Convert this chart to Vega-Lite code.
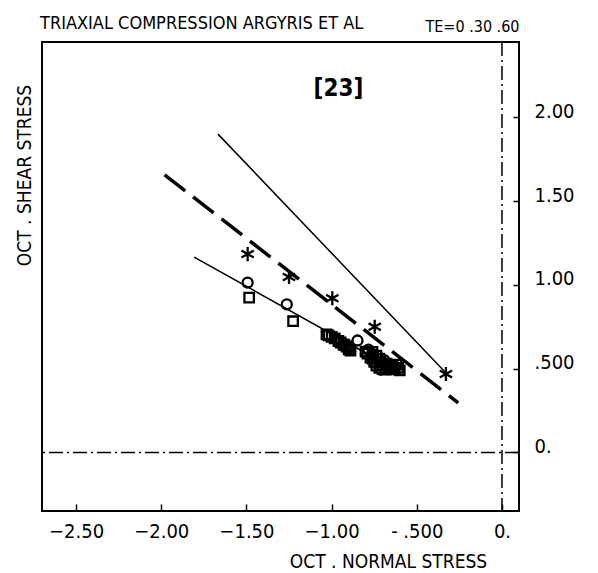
{
  "$schema": "https://vega.github.io/schema/vega-lite/v6.json",
  "width": 477,
  "height": 469,
  "autosize": "none",
  "padding": {"left": 42, "top": 42, "right": 79, "bottom": 62},
  "background": "white",
  "config": {
    "view": {"stroke": "black", "strokeWidth": 2},
    "font": "DejaVu Sans Condensed",
    "axis": {"grid": false, "domain": false, "labelFont": "DejaVu Sans Condensed", "titleFont": "DejaVu Sans Condensed", "labelColor": "black", "titleColor": "black", "tickColor": "black", "titleFontWeight": "normal"}
  },
  "title": {"text": "TRIAXIAL COMPRESSION ARGYRIS ET AL", "anchor": "start", "frame": "group", "fontSize": 18, "fontWeight": "normal", "font": "DejaVu Sans Condensed", "baseline": "alphabetic", "offset": 0, "dx": -2, "dy": 29, "color": "black"},
  "datasets": {
    "lines": [
      {"line": "upper", "x": -1.667, "y": 1.9},
      {"line": "upper", "x": -0.32, "y": 0.465},
      {"line": "dashed", "x": -1.98, "y": 1.657},
      {"line": "dashed", "x": -0.257, "y": 0.296},
      {"line": "lower", "x": -1.807, "y": 1.166},
      {"line": "lower", "x": -0.6, "y": 0.48}
    ],
    "points": [
      {"series": "star", "x": -1.493, "y": 1.184},
      {"series": "star", "x": -1.25, "y": 1.047},
      {"series": "star", "x": -0.996, "y": 0.92},
      {"series": "star", "x": -0.747, "y": 0.75},
      {"series": "star", "x": -0.329, "y": 0.468},
      {"series": "circle", "x": -1.493, "y": 1.014},
      {"series": "circle", "x": -1.263, "y": 0.884},
      {"series": "circle", "x": -0.848, "y": 0.668},
      {"series": "circle", "x": -0.713, "y": 0.494},
      {"series": "square", "x": -1.484, "y": 0.924},
      {"series": "square", "x": -1.226, "y": 0.783},
      {"series": "square", "x": -1.03, "y": 0.705},
      {"series": "square", "x": -1.018, "y": 0.698},
      {"series": "square", "x": -1.0, "y": 0.69},
      {"series": "square", "x": -0.982, "y": 0.68},
      {"series": "circle", "x": -0.965, "y": 0.672},
      {"series": "square", "x": -0.96, "y": 0.665},
      {"series": "square", "x": -0.947, "y": 0.656},
      {"series": "square", "x": -0.93, "y": 0.645},
      {"series": "square", "x": -0.925, "y": 0.64},
      {"series": "square", "x": -0.912, "y": 0.632},
      {"series": "circle", "x": -0.9, "y": 0.625},
      {"series": "square", "x": -0.9, "y": 0.615},
      {"series": "square", "x": -0.889, "y": 0.608},
      {"series": "square", "x": -0.801, "y": 0.602},
      {"series": "square", "x": -0.79, "y": 0.59},
      {"series": "circle", "x": -0.784, "y": 0.614},
      {"series": "square", "x": -0.772, "y": 0.566},
      {"series": "square", "x": -0.76, "y": 0.6},
      {"series": "square", "x": -0.76, "y": 0.56},
      {"series": "square", "x": -0.75, "y": 0.54},
      {"series": "square", "x": -0.737, "y": 0.578},
      {"series": "circle", "x": -0.755, "y": 0.585},
      {"series": "square", "x": -0.72, "y": 0.56},
      {"series": "square", "x": -0.713, "y": 0.542},
      {"series": "square", "x": -0.72, "y": 0.505},
      {"series": "square", "x": -0.7, "y": 0.52},
      {"series": "square", "x": -0.678, "y": 0.53},
      {"series": "circle", "x": -0.69, "y": 0.55},
      {"series": "square", "x": -0.66, "y": 0.52},
      {"series": "square", "x": -0.65, "y": 0.495},
      {"series": "square", "x": -0.643, "y": 0.512},
      {"series": "square", "x": -0.62, "y": 0.524},
      {"series": "square", "x": -0.61, "y": 0.505},
      {"series": "square", "x": -0.6, "y": 0.49},
      {"series": "square", "x": -0.737, "y": 0.518},
      {"series": "square", "x": -0.684, "y": 0.494},
      {"series": "circle", "x": -0.66, "y": 0.505},
      {"series": "square", "x": -0.63, "y": 0.5}
    ],
    "labels": [{"label": "[23]", "x": -0.96, "y": 2.17}]
  },
  "resolve": {"axis": {"x": "independent", "y": "independent"}},
  "layer": [
    {
      "data": {"values": [{"y": 0}]},
      "mark": {"type": "rule", "color": "black", "strokeWidth": 1.5, "strokeDash": [14, 4, 2, 4]},
      "encoding": {
        "y": {"field": "y", "type": "quantitative", "scale": {"domain": [-0.35, 2.45], "nice": false, "zero": false},
          "axis": {"orient": "left", "title": "OCT . SHEAR STRESS", "labels": false, "ticks": false, "titleFontSize": 19, "titleAngle": 270, "titleX": -18, "titleY": 133, "titleAlign": "center", "titleBaseline": "middle"}}
      }
    },
    {
      "data": {"values": [{"x": 0}]},
      "mark": {"type": "rule", "color": "black", "strokeWidth": 1.5, "strokeDash": [14, 4, 2, 4]},
      "encoding": {
        "x": {"field": "x", "type": "quantitative", "scale": {"domain": [-2.7, 0.1], "nice": false, "zero": false},
          "axis": {"orient": "top", "title": "TE=0 .30 .60", "labels": false, "ticks": false, "titleFontSize": 16, "titleX": 477, "titleY": -11, "titleAlign": "right", "titleBaseline": "alphabetic"}}
      }
    },
    {
      "data": {"name": "lines"},
      "transform": [{"filter": "datum.line != 'dashed'"}],
      "mark": {"type": "line", "color": "black", "strokeWidth": 1.5},
      "encoding": {
        "x": {"field": "x", "type": "quantitative", "scale": {"domain": [-2.7, 0.1], "nice": false, "zero": false},
          "axis": {"orient": "bottom", "values": [-2.5, -2, -1.5, -1, -0.5, 0], "labelExpr": "datum.value == 0 ? '0.' : datum.value == -0.5 ? '- .500' : format(datum.value, '.2f')", "tickSize": -7, "tickWidth": 1.5, "labelFontSize": 20, "labelPadding": 17, "labelBaseline": "top", "title": "OCT . NORMAL STRESS", "titleFontSize": 19, "titleX": 346, "titleY": 56, "titleAlign": "center", "titleBaseline": "alphabetic"}},
        "y": {"field": "y", "type": "quantitative", "scale": {"domain": [-0.35, 2.45], "nice": false, "zero": false},
          "axis": {"orient": "right", "values": [0, 0.5, 1, 1.5, 2], "labelExpr": "datum.value == 0 ? '0.' : datum.value == 0.5 ? '.500' : format(datum.value, '.2f')", "tickSize": -6, "tickWidth": 1.5, "labelFontSize": 20, "labelPadding": 21, "labelAlign": "left", "labelBaseline": "alphabetic", "title": null}},
        "detail": {"field": "line"}
      }
    },
    {
      "data": {"name": "lines"},
      "transform": [{"filter": "datum.line == 'dashed'"}],
      "mark": {"type": "line", "color": "black", "strokeWidth": 3.5, "strokeDash": [26, 10]},
      "encoding": {
        "x": {"field": "x", "type": "quantitative", "scale": {"domain": [-2.7, 0.1], "nice": false, "zero": false}, "axis": null},
        "y": {"field": "y", "type": "quantitative", "scale": {"domain": [-0.35, 2.45], "nice": false, "zero": false}, "axis": null}
      }
    },
    {
      "data": {"name": "points"},
      "mark": {"type": "point", "filled": false, "color": "black", "strokeWidth": 2.3, "opacity": 1},
      "encoding": {
        "x": {"field": "x", "type": "quantitative", "scale": {"domain": [-2.7, 0.1], "nice": false, "zero": false}, "axis": null},
        "y": {"field": "y", "type": "quantitative", "scale": {"domain": [-0.35, 2.45], "nice": false, "zero": false}, "axis": null},
        "shape": {"field": "series", "type": "nominal", "scale": {"domain": ["star", "circle", "square"], "range": ["M0,-1L0,1M-0.87,-0.5L0.87,0.5M-0.87,0.5L0.87,-0.5", "circle", "square"]}, "legend": null},
        "size": {"field": "series", "type": "nominal", "scale": {"type": "ordinal", "domain": ["star", "circle", "square"], "range": [200, 100, 90]}, "legend": null}
      }
    },
    {
      "data": {"name": "labels"},
      "mark": {"type": "text", "fontSize": 24, "fontWeight": "bold", "font": "DejaVu Sans Condensed", "color": "black", "align": "center", "baseline": "middle"},
      "encoding": {
        "x": {"field": "x", "type": "quantitative", "scale": {"domain": [-2.7, 0.1], "nice": false, "zero": false}, "axis": null},
        "y": {"field": "y", "type": "quantitative", "scale": {"domain": [-0.35, 2.45], "nice": false, "zero": false}, "axis": null},
        "text": {"field": "label"}
      }
    }
  ]
}
